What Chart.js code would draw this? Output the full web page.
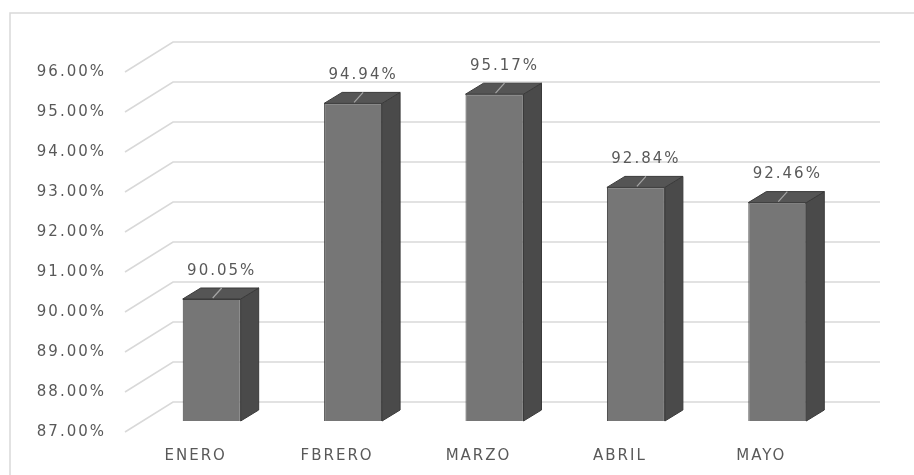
<!DOCTYPE html>
<html>
<head>
<meta charset="utf-8">
<script src="https://cdn.jsdelivr.net/npm/chart.js@4"></script>
<style>
  html, body { margin: 0; padding: 0; background: #fff; }
  #wrap { position: relative; width: 914px; height: 475px; }
</style>
</head>
<body>
<div id="wrap"><canvas id="chart" width="914" height="475"></canvas></div>
<script>
// data
const months = ['ENERO', 'FBRERO', 'MARZO', 'ABRIL', 'MAYO'];
const values = [90.05, 94.94, 95.17, 92.84, 92.46];
const yMin = 87;
const yMax = 96;

// 3d look: wall depth and bar depth offsets
const WALL_DX = 48, WALL_DY = -30;
const BAR_OFF_X = 16, BAR_OFF_Y = -11;
const BAR_DX = 18, BAR_DY = -11;
const textColor = '#595959';
const SPACING = '2px';

const fmt = v => v.toFixed(2) + '%';

const look3d = {
  id: 'look3d',
  beforeLayout(chart) { chart.ctx.letterSpacing = SPACING; },
  beforeDraw(chart) {
    const ctx = chart.ctx;
    ctx.letterSpacing = SPACING;
    // outer frame (runs off the right and bottom)
    ctx.save();
    ctx.strokeStyle = '#d9d9d9';
    ctx.lineWidth = 1.5;
    ctx.beginPath();
    ctx.moveTo(10, 475);
    ctx.lineTo(10, 13);
    ctx.lineTo(914, 13);
    ctx.stroke();
    ctx.restore();
  },
  beforeDatasetsDraw(chart) {
    const ctx = chart.ctx;
    const area = chart.chartArea;
    const y = chart.scales.y;
    // slanted gridlines on the back wall
    ctx.save();
    ctx.strokeStyle = '#d9d9d9';
    ctx.lineWidth = 1.6;
    y.ticks.forEach(t => {
      const py = y.getPixelForValue(t.value);
      ctx.beginPath();
      ctx.moveTo(area.left, py);
      ctx.lineTo(area.left + WALL_DX, py + WALL_DY);
      ctx.lineTo(area.right + WALL_DX, py + WALL_DY);
      ctx.stroke();
    });
    ctx.restore();
    // front faces drawn by chart.js, pushed back into the box
    ctx.save();
    ctx.translate(BAR_OFF_X, BAR_OFF_Y);
  },
  afterDatasetsDraw(chart) {
    const ctx = chart.ctx;
    ctx.restore();
    const meta = chart.getDatasetMeta(0);
    const b = chart.scales.y.getPixelForValue(yMin) + BAR_OFF_Y;
    ctx.save();
    meta.data.forEach((bar, i) => {
      const p = bar.getProps(['x', 'y', 'width'], true);
      const l = p.x - p.width / 2 + BAR_OFF_X;
      const r = p.x + p.width / 2 + BAR_OFF_X;
      const t = p.y + BAR_OFF_Y;
      // side
      ctx.fillStyle = '#4a4a4a';
      ctx.beginPath();
      ctx.moveTo(r, t);
      ctx.lineTo(r + BAR_DX, t + BAR_DY);
      ctx.lineTo(r + BAR_DX, b + BAR_DY);
      ctx.lineTo(r, b);
      ctx.closePath();
      ctx.fill();
      ctx.strokeStyle = '#3a3a3a';
      ctx.lineWidth = 1;
      ctx.stroke();
      // top
      ctx.fillStyle = '#555555';
      ctx.beginPath();
      ctx.moveTo(l, t);
      ctx.lineTo(l + BAR_DX, t + BAR_DY);
      ctx.lineTo(r + BAR_DX, t + BAR_DY);
      ctx.lineTo(r, t);
      ctx.closePath();
      ctx.fill();
      ctx.stroke();
      // leader line + value label
      const cx = p.x + BAR_OFF_X;
      ctx.strokeStyle = '#a6a6a6';
      ctx.lineWidth = 1.2;
      ctx.beginPath();
      ctx.moveTo(cx + 1, t - 1);
      ctx.lineTo(cx + 10, t - 11);
      ctx.stroke();
      ctx.fillStyle = textColor;
      ctx.font = '15px "DejaVu Sans"';
      ctx.textAlign = 'center';
      ctx.textBaseline = 'middle';
      ctx.fillText(fmt(values[i]), cx + 10, t - 28);
    });
    ctx.restore();
  }
};

new Chart(document.getElementById('chart'), {
  type: 'bar',
  data: {
    labels: months,
    datasets: [{
      data: values,
      base: yMin,
      backgroundColor: '#767676',
      borderColor: '#3c3c3c',
      borderWidth: 1,
      barPercentage: 0.41,
      categoryPercentage: 1
    }]
  },
  options: {
    responsive: false,
    animation: false,
    layout: { padding: { top: 72, right: 82, bottom: 0, left: 0 } },
    plugins: { legend: { display: false }, tooltip: { enabled: false } },
    scales: {
      x: {
        grid: { display: false, drawTicks: false },
        border: { display: false },
        afterFit(scale) { scale.height = 43; },
        ticks: { color: textColor, font: { family: 'DejaVu Sans', size: 15 }, padding: 15, maxRotation: 0 }
      },
      y: {
        min: yMin,
        max: yMax,
        grid: { display: false, drawTicks: false },
        border: { display: false },
        afterFit(scale) { scale.width = 125; },
        ticks: {
          stepSize: 1,
          color: textColor,
          font: { family: 'DejaVu Sans', size: 15 },
          padding: 19,
          callback: v => fmt(v)
        }
      }
    }
  },
  plugins: [look3d]
});
</script>
</body>
</html>
